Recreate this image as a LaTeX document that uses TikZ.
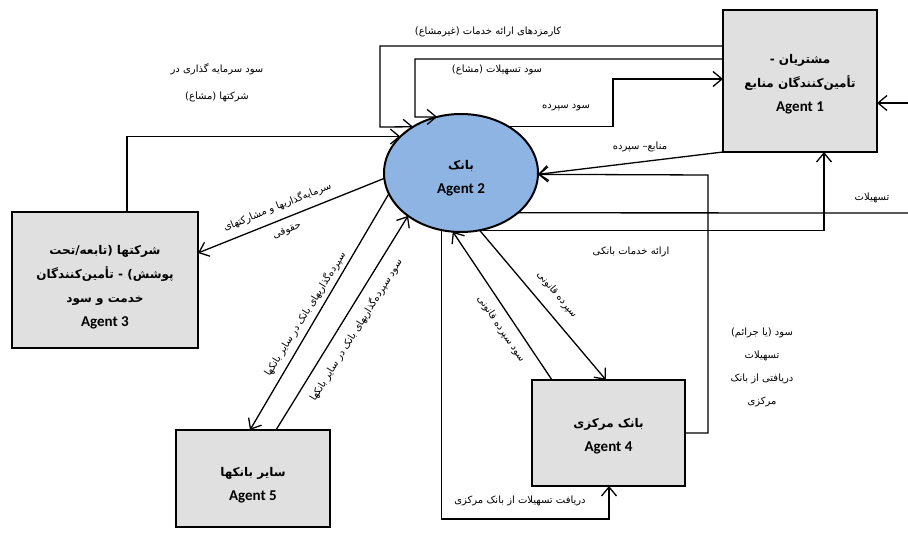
\documentclass[tikz,border=0pt]{standalone}
\usepackage{fontspec}
\setmainfont{Carlito}
\newfontfamily\fa[Script=Arabic]{DejaVu Sans}
\TeXXeTstate=1
\usetikzlibrary{arrows.meta,shapes.geometric}
\definecolor{boxgray}{HTML}{E0E0E0}
\definecolor{bankblue}{HTML}{8EB4E3}
\newcommand{\prs}[1]{{\fa\beginR #1\endR}}
\newcommand{\prsb}[1]{{\fa\fontsize{12}{24}\selectfont\beginR #1\endR}}
\begin{document}
\begin{tikzpicture}[x=1pt,y=-1pt,
  agent/.style={draw, line width=2.4pt, fill=boxgray, inner sep=0pt, outer sep=0pt},
  agenttext/.style={align=center, inner sep=0pt, font=\fontsize{15}{24}\selectfont\bfseries},
  bankst/.style={ellipse, draw, line width=2pt, fill=bankblue, inner sep=0pt, outer sep=0pt,
    minimum width=154pt, minimum height=118pt},
  conn/.style={line width=1.3pt},
  arr/.style={line width=1.3pt, -{Straight Barb[length=9pt,width=15pt]}},
  lbl/.style={font=\fontsize{10}{12}\selectfont, inner sep=1pt, align=center}]
\useasboundingbox (0,0) rectangle (908,534);
\fill[white] (0,0) rectangle (908,534);

% agents
\node[agent, minimum width=154pt, minimum height=142pt] (a1) at (800,81) {};
\node[agenttext] (t1) at (800,84) {\prsb{مشتریان -}\\\prsb{تأمین‌کنندگان منابع}\\Agent 1};
\node[bankst] (bank) at (461,173) {};
\node[agenttext] (t2) at (461,178) {\prsb{بانک}\\Agent 2};
\node[agent, minimum width=186pt, minimum height=136pt] (a3) at (105,280) {};
\node[agenttext] (t3) at (105,287)
  {\prsb{شرکتها (تابعه/تحت}\\\prsb{پوشش) - تأمین‌کنندگان}\\\prsb{خدمت و سود}\\Agent 3};
\node[agent, minimum width=153pt, minimum height=106pt] (a4) at (608.5,433) {};
\node[agenttext] (t4) at (608.5,436) {\prsb{بانک مرکزی}\\Agent 4};
\node[agent, minimum width=154pt, minimum height=97pt] (a5) at (253,478.5) {};
\node[agenttext] (t5) at (253,485) {\prsb{سایر بانکها}\\Agent 5};

% free ends and bends
\coordinate (gout) at (908,213);
\coordinate (gin) at (908,103);
\coordinate (hb) at (609,519);

% connectors
\draw[arr] (a1.west |- 0,46) -| (380,127) -- (bank.136.3);
\draw[arr] (a1.west |- 0,59) -| (415,117) -- (bank.113.5);
\draw[arr] (127,0 |- a3.north) |- (bank.149.5);
\draw[arr] (bank.45.3) -| (613,79) -- (a1.west |- 0,79);
\draw[arr] (a1.south west) -- (bank.-1.5);
\draw[arr] (a4.east |- 0,433) -| (708,175) -- (bank.-1.5);
\draw[conn] (bank.-35.2) -- (gout);
\draw[arr] (gin) -- (a1.east |- gin);
\draw[arr] (bank.-72) -| (824,0 |- a1.south);
\draw[arr] (bank.251.6) |- (hb) -- (hb |- a4.south);
\draw[arr] (bank.-72) -- (606,0 |- a4.north);
\draw[arr] (552,0 |- a4.north) -- (bank.262.2);
\draw[arr] (bank.196) -- (250,0 |- a5.north);
\draw[arr] (276,0 |- a5.north) -- (bank.219.2);
\draw[arr] (bank.184) -- (a3.east |- 0,253);

% labels
\node[lbl] (l1) at (488,32) {\prs{کارمزدهای ارائه خدمات (غیرمشاع)}};
\node[lbl] (l2) at (497,70) {\prs{سود تسهیلات (مشاع)}};
\node[lbl] (l3) at (566,108) {\prs{سود سپرده}};
\node[lbl, font=\fontsize{10}{27}\selectfont] (l4) at (217,83)
  {\prs{سود سرمایه گذاری در}\\\prs{شرکتها (مشاع)}};
\node[lbl] (l5) at (640,147) {\prs{منابع– سپرده}};
\node[lbl] (l6) at (872,198) {\prs{تسهیلات}};
\node[lbl] (l7) at (631,252) {\prs{ارائه خدمات بانکی}};
\node[lbl, font=\fontsize{10}{23}\selectfont] (l8) at (762,367)
  {\prs{سود (یا جرائم)}\\\prs{تسهیلات}\\\prs{دریافتی از بانک}\\\prs{مرکزی}};
\node[lbl] (l9) at (520,501) {\prs{دریافت تسهیلات از بانک مرکزی}};
\node[lbl, font=\fontsize{10}{25}\selectfont, rotate=22] (l10) at (282,218)
  {\prs{سرمایه‌گذاریها و مشارکتهای}\\\prs{حقوقی}};
\node[lbl, rotate=58] (l11) at (305,314) {\prs{سپرده‌گذاریهای بانک در سایر بانکها}};
\node[lbl, rotate=58] (l12) at (356,330) {\prs{سود سپرده‌گذاریهای بانک در سایر بانکها}};
\node[lbl, rotate=-50] (l13) at (557,295) {\prs{سپرده قانونی}};
\node[lbl, rotate=-56] (l14) at (501,329) {\prs{سود سپرده قانونی}};
\end{tikzpicture}
\end{document}
